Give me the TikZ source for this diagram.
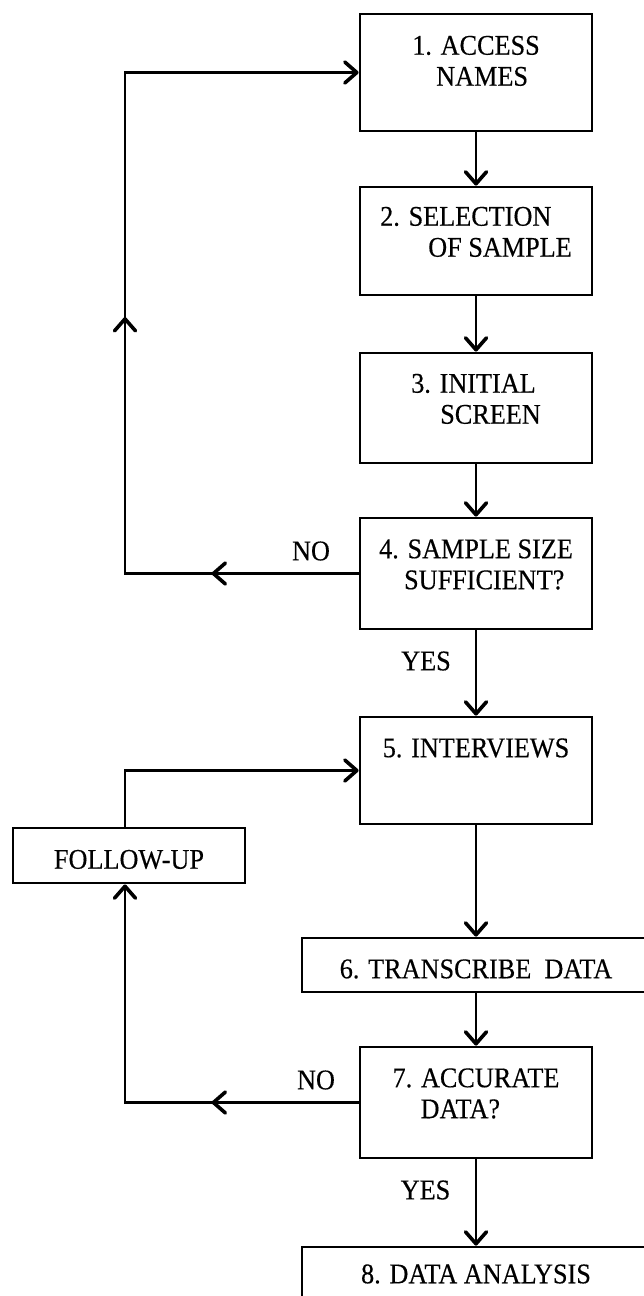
\documentclass[tikz,border=0pt]{standalone}
\usepackage{fontspec}
\setmainfont{Liberation Serif}[FakeStretch=0.92,FakeBold=0.35]
\usetikzlibrary{arrows.meta,decorations.markings}
\newcommand{\twol}[4]{\raisebox{#1}[\height][\depth]{\begin{tabular}{@{}l@{}}#2\\\hspace*{#3}#4\end{tabular}}}
\newcommand{\onel}[2]{\raisebox{#1}[\height][\depth]{#2}}
\tikzset{btip/.tip={Straight Barb[length=12pt,width=21pt,line width=3.6pt,round]}}
\begin{document}
\begin{tikzpicture}[x=1pt,y=-1pt,
  box/.style={draw,line width=2.8pt,rectangle,minimum width=232pt,inner sep=0pt,font=\fontsize{28.5}{31}\selectfont},
  lab/.style={inner sep=0pt,font=\fontsize{28.5}{31}\selectfont},
  conn/.style={line width=2.4pt,-{btip}}]
\useasboundingbox (0,0) rectangle (644,1296);
\coordinate (L) at (125,0);
\node[box,minimum height=117pt] (b1) at (476,72.5) {\twol{8.5pt}{1. ACCESS}{24pt}{NAMES}};
\node[box,minimum height=108pt] (b2) at (476,241) {\twol{6pt}{2. SELECTION}{48pt}{OF SAMPLE}};
\node[box,minimum height=110pt] (b3) at (476,408) {\twol{6pt}{3. INITIAL}{29pt}{SCREEN}};
\node[box,minimum height=111pt] (b4) at (476,573.5) {\twol{6pt}{4. SAMPLE SIZE}{25pt}{SUFFICIENT?}};
\node[box,minimum height=107pt] (b5) at (476,770.5) {\twol{4pt}{5. INTERVIEWS}{0pt}{}};
\node[box,minimum width=348pt,minimum height=54pt] (b6) at (476,965) {\onel{-4pt}{6. TRANSCRIBE~ DATA}};
\node[box,minimum height=111pt] (b7) at (476,1102.5) {\twol{6pt}{7. ACCURATE}{28pt}{DATA?}};
\node[box,minimum width=348pt,minimum height=54pt] (b8) at (476,1274) {8. DATA ANALYSIS};
\node[box,minimum height=55pt] (fu) at (129,855.5) {\onel{-4pt}{FOLLOW-UP}};
\node[lab] (no1) at (311,551) {NO};
\node[lab] (yes1) at (426,661) {YES};
\node[lab] (no2) at (316,1080) {NO};
\node[lab] (yes2) at (425.5,1190) {YES};
\draw[conn] (b1) -- (b2);
\draw[conn] (b2) -- (b3);
\draw[conn] (b3) -- (b4);
\draw[conn] (b4) -- (b5);
\draw[conn] (b5) -- (b6);
\draw[conn] (b6) -- (b7);
\draw[conn] (b7) -- (b8);
\draw[conn,decoration={markings,mark=at position 147pt with {\arrow{btip}},mark=at position 490pt with {\arrow{btip}}},postaction={decorate}]
  (b4.west) -- (b4.west -| L) -- (b1.west -| L) -- (b1.west);
\draw[conn,decoration={markings,mark=at position 147pt with {\arrow{btip}}},postaction={decorate}]
  (b7.west) -- (b7.west -| L) -- (fu.south -| L);
\draw[conn] (fu.north -| L) -- (b5.west -| L) -- (b5.west);
\end{tikzpicture}
\end{document}
